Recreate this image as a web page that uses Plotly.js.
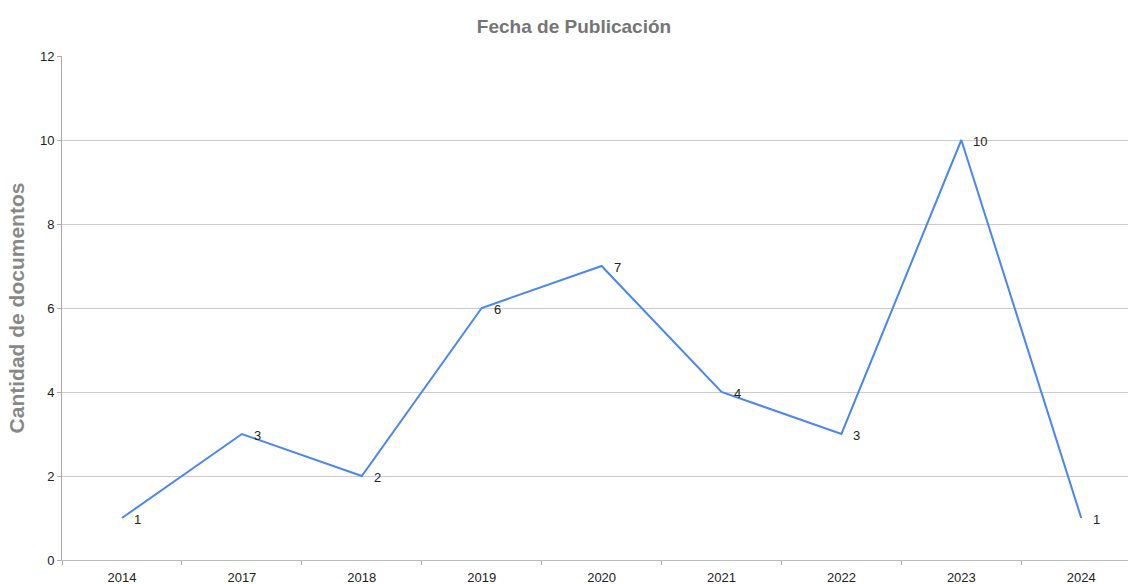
<!DOCTYPE html>
<html>
<head>
<meta charset="utf-8">
<script src="https://cdn.plot.ly/plotly-3.0.1.min.js"></script>
<style>html,body{margin:0;padding:0;background:#fff;}#chart{width:1128px;height:584px;}</style>
</head>
<body>
<div id="chart"></div>
<script>
const years = ["2014","2017","2018","2019","2020","2021","2022","2023","2024"];
const counts = [1,3,2,6,7,4,3,10,1];
const yTicks = [0,2,4,6,8,10,12];

const annotations = years.map((y, i) => ({
  x: i, y: counts[i], xref: 'x', yref: 'y',
  text: String(counts[i]), showarrow: false,
  xanchor: 'left', yanchor: 'middle', xshift: 10, yshift: -1,
  font: {family: 'Liberation Sans, Arial, sans-serif', size: 13, color: '#222'}
}));

const trace = {
  x: years.map((y, i) => i), y: counts, type: 'scatter', mode: 'lines',
  line: {color: '#4a86f0', width: 2}, hoverinfo: 'none'
};

const layout = {
  width: 1128, height: 584,
  margin: {l: 62, r: 0, t: 56, b: 24},
  paper_bgcolor: '#fff', plot_bgcolor: '#fff',
  font: {family: 'Liberation Sans, Arial, sans-serif', size: 13, color: '#222'},
  title: {text: '<b>Fecha de Publicación</b>', x: 574/1128, xref: 'container', xanchor: 'center', y: 1 - 26/584, yref: 'container', yanchor: 'middle',
          font: {family: 'Liberation Sans, Arial, sans-serif', size: 19, color: '#757575'}},
  showlegend: false,
  xaxis: {
    type: 'linear', range: [-0.5, 8.39], zeroline: false,
    tickvals: years.map((y, i) => i), ticktext: years,
    ticks: '', showgrid: false, showline: true, linecolor: '#bbb', linewidth: 1,
    tickfont: {size: 13, color: '#222'}, ticklabelstandoff: 5, fixedrange: true,
    minor: {tickvals: years.map((y, i) => i - 0.5).concat([years.length - 0.5]), ticks: 'outside', ticklen: 4, tickcolor: '#aaa', showgrid: false}
  },
  yaxis: {
    range: [0, 12], tickvals: yTicks, ticktext: yTicks.map(String),
    ticks: 'outside', ticklen: 4, tickcolor: '#aaa',
    showgrid: true, gridcolor: '#cccccc', zeroline: false,
    showline: true, linecolor: '#aaa', linewidth: 1,
    tickfont: {size: 13, color: '#222'},
    title: {text: '<b>Cantidad de documentos</b>', standoff: 9,
            font: {family: 'Liberation Sans, Arial, sans-serif', size: 21, color: '#888888'}},
    fixedrange: true
  },
  annotations: annotations
};

Plotly.newPlot('chart', [trace], layout, {displayModeBar: false, staticPlot: true});
</script>
</body>
</html>
